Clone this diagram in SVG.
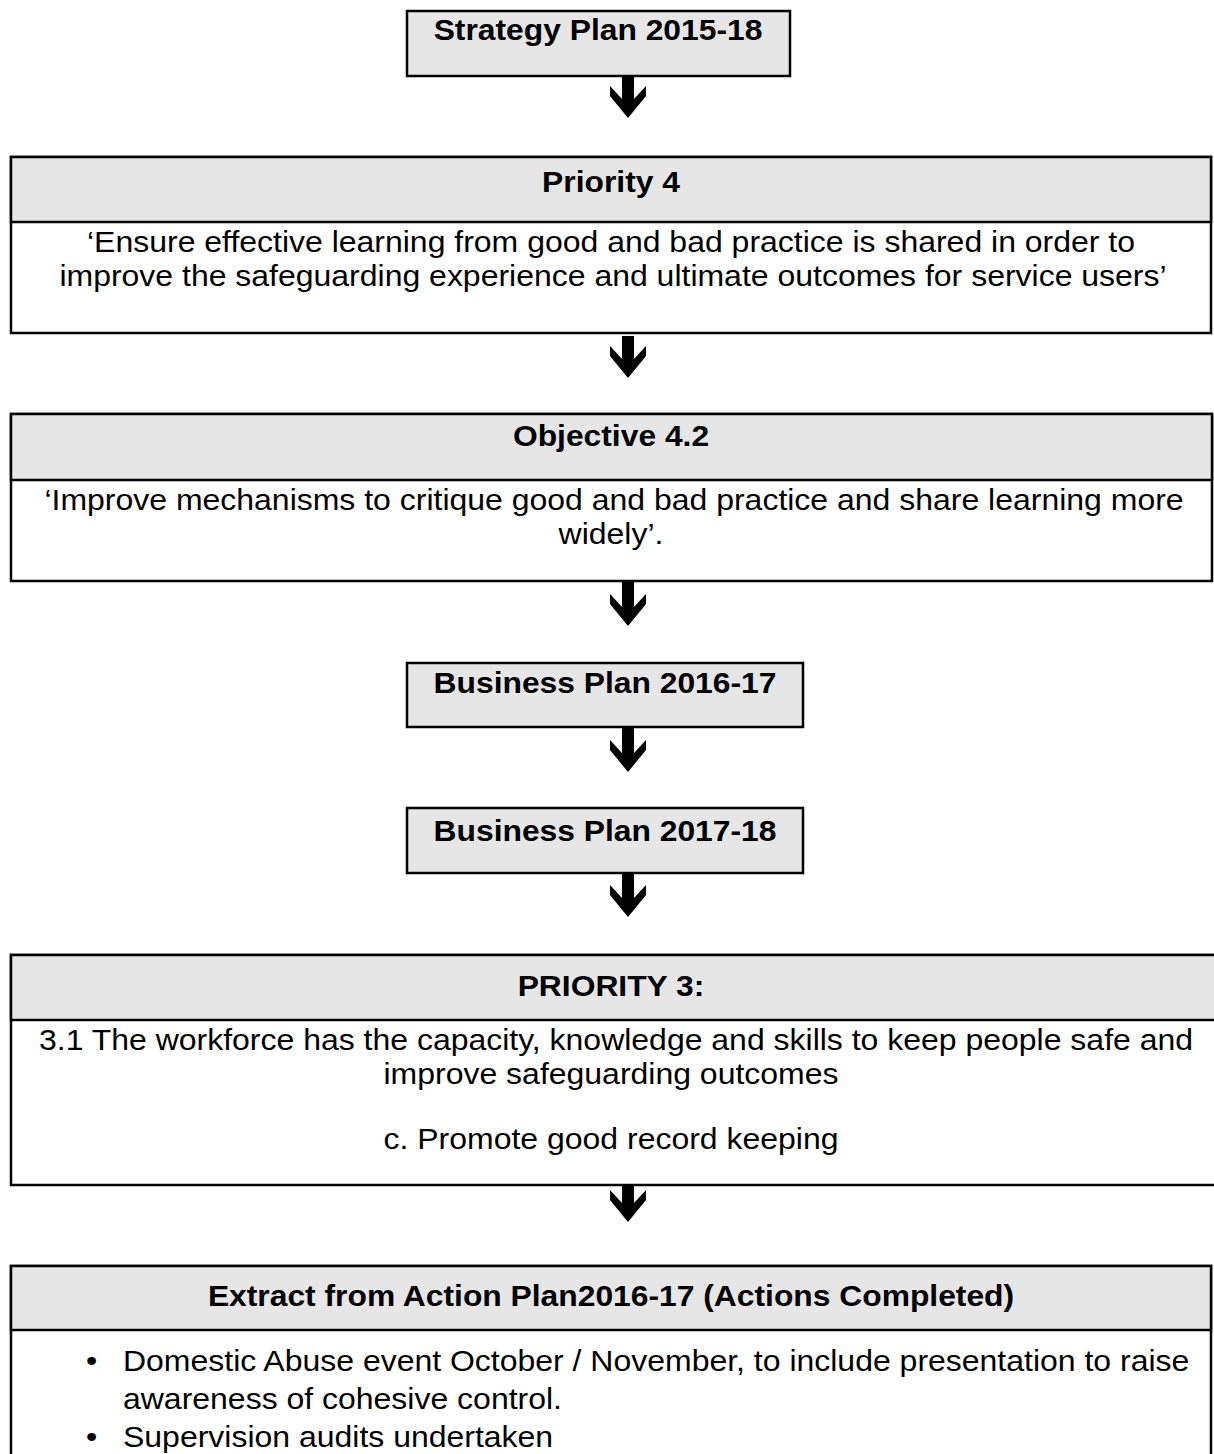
<svg xmlns="http://www.w3.org/2000/svg" width="1214" height="1454" viewBox="0 0 1214 1454">
<style>
.box{fill:#ffffff;stroke:#000;stroke-width:2.5}
.hdr{fill:#e6e6e6;stroke:#000;stroke-width:2.5}
.t{font-family:"Liberation Sans",Arial,sans-serif;font-size:29px;fill:#000}
.b{font-weight:bold}
.m{text-anchor:middle}
.arrow{fill:#000}
</style>
<rect width="1214" height="1454" fill="#fff"/>
<g id="strategy">
<rect class="hdr" x="407" y="11" width="383" height="65"/>
<text class="t b m" transform="translate(598,40) scale(1.097,1)">Strategy Plan 2015-18</text>
</g>
<g id="priority4">
<rect class="box" x="11" y="157" width="1200" height="176"/>
<rect class="hdr" x="11" y="157" width="1200" height="65"/>
<text class="t b m" transform="translate(611,192) scale(1.097,1)">Priority 4</text>
<text class="t m" transform="translate(611,252) scale(1.103,1)">‘Ensure effective learning from good and bad practice is shared in order to</text>
<text class="t m" transform="translate(613,286) scale(1.103,1)">improve the safeguarding experience and ultimate outcomes for service users’</text>
</g>
<g id="objective42">
<rect class="box" x="11" y="414" width="1201" height="167"/>
<rect class="hdr" x="11" y="414" width="1201" height="66"/>
<text class="t b m" transform="translate(611,446) scale(1.097,1)">Objective 4.2</text>
<text class="t m" transform="translate(614,510) scale(1.103,1)">‘Improve mechanisms to critique good and bad practice and share learning more</text>
<text class="t m" transform="translate(611,544) scale(1.103,1)">widely’.</text>
</g>
<g id="business1617">
<rect class="hdr" x="407" y="663" width="396" height="64"/>
<text class="t b m" transform="translate(605,693) scale(1.097,1)">Business Plan 2016-17</text>
</g>
<g id="business1718">
<rect class="hdr" x="407" y="808" width="396" height="65"/>
<text class="t b m" transform="translate(605,841) scale(1.097,1)">Business Plan 2017-18</text>
</g>
<g id="priority3">
<rect class="box" x="11" y="955" width="1210" height="230"/>
<rect class="hdr" x="11" y="955" width="1210" height="65"/>
<text class="t b m" transform="translate(611,996) scale(1.097,1)">PRIORITY 3:</text>
<text class="t m" transform="translate(616,1050) scale(1.103,1)">3.1 The workforce has the capacity, knowledge and skills to keep people safe and</text>
<text class="t m" transform="translate(611,1084) scale(1.103,1)">improve safeguarding outcomes</text>
<text class="t m" transform="translate(611,1149) scale(1.103,1)">c. Promote good record keeping</text>
</g>
<g id="actionplan">
<rect class="box" x="11" y="1266" width="1200" height="200"/>
<rect class="hdr" x="11" y="1266" width="1200" height="64"/>
<text class="t b m" transform="translate(611,1306) scale(1.097,1)">Extract from Action Plan2016-17 (Actions Completed)</text>
<text class="t" transform="translate(86,1371) scale(1.103,1)">•</text>
<text class="t" transform="translate(123,1371) scale(1.103,1)">Domestic Abuse event October / November, to include presentation to raise</text>
<text class="t" transform="translate(123,1409) scale(1.103,1)">awareness of cohesive control.</text>
<text class="t" transform="translate(86,1447) scale(1.103,1)">•</text>
<text class="t" transform="translate(123,1447) scale(1.103,1)">Supervision audits undertaken</text>
</g>
<g id="connectors">
<path class="arrow" d="M622 76 L634 76 L634 99 L646 86 L646 96 L628 118 L610 96 L610 86 L622 99 Z"/>
<path class="arrow" d="M622 336 L634 336 L634 359 L646 346 L646 356 L628 378 L610 356 L610 346 L622 359 Z"/>
<path class="arrow" d="M622 582 L634 582 L634 607 L646 594 L646 604 L628 626 L610 604 L610 594 L622 607 Z"/>
<path class="arrow" d="M622 727 L634 727 L634 753 L646 740 L646 750 L628 772 L610 750 L610 740 L622 753 Z"/>
<path class="arrow" d="M622 873 L634 873 L634 898 L646 885 L646 895 L628 917 L610 895 L610 885 L622 898 Z"/>
<path class="arrow" d="M622 1186 L634 1186 L634 1203 L646 1190 L646 1200 L628 1222 L610 1200 L610 1190 L622 1203 Z"/>
</g>
</svg>
